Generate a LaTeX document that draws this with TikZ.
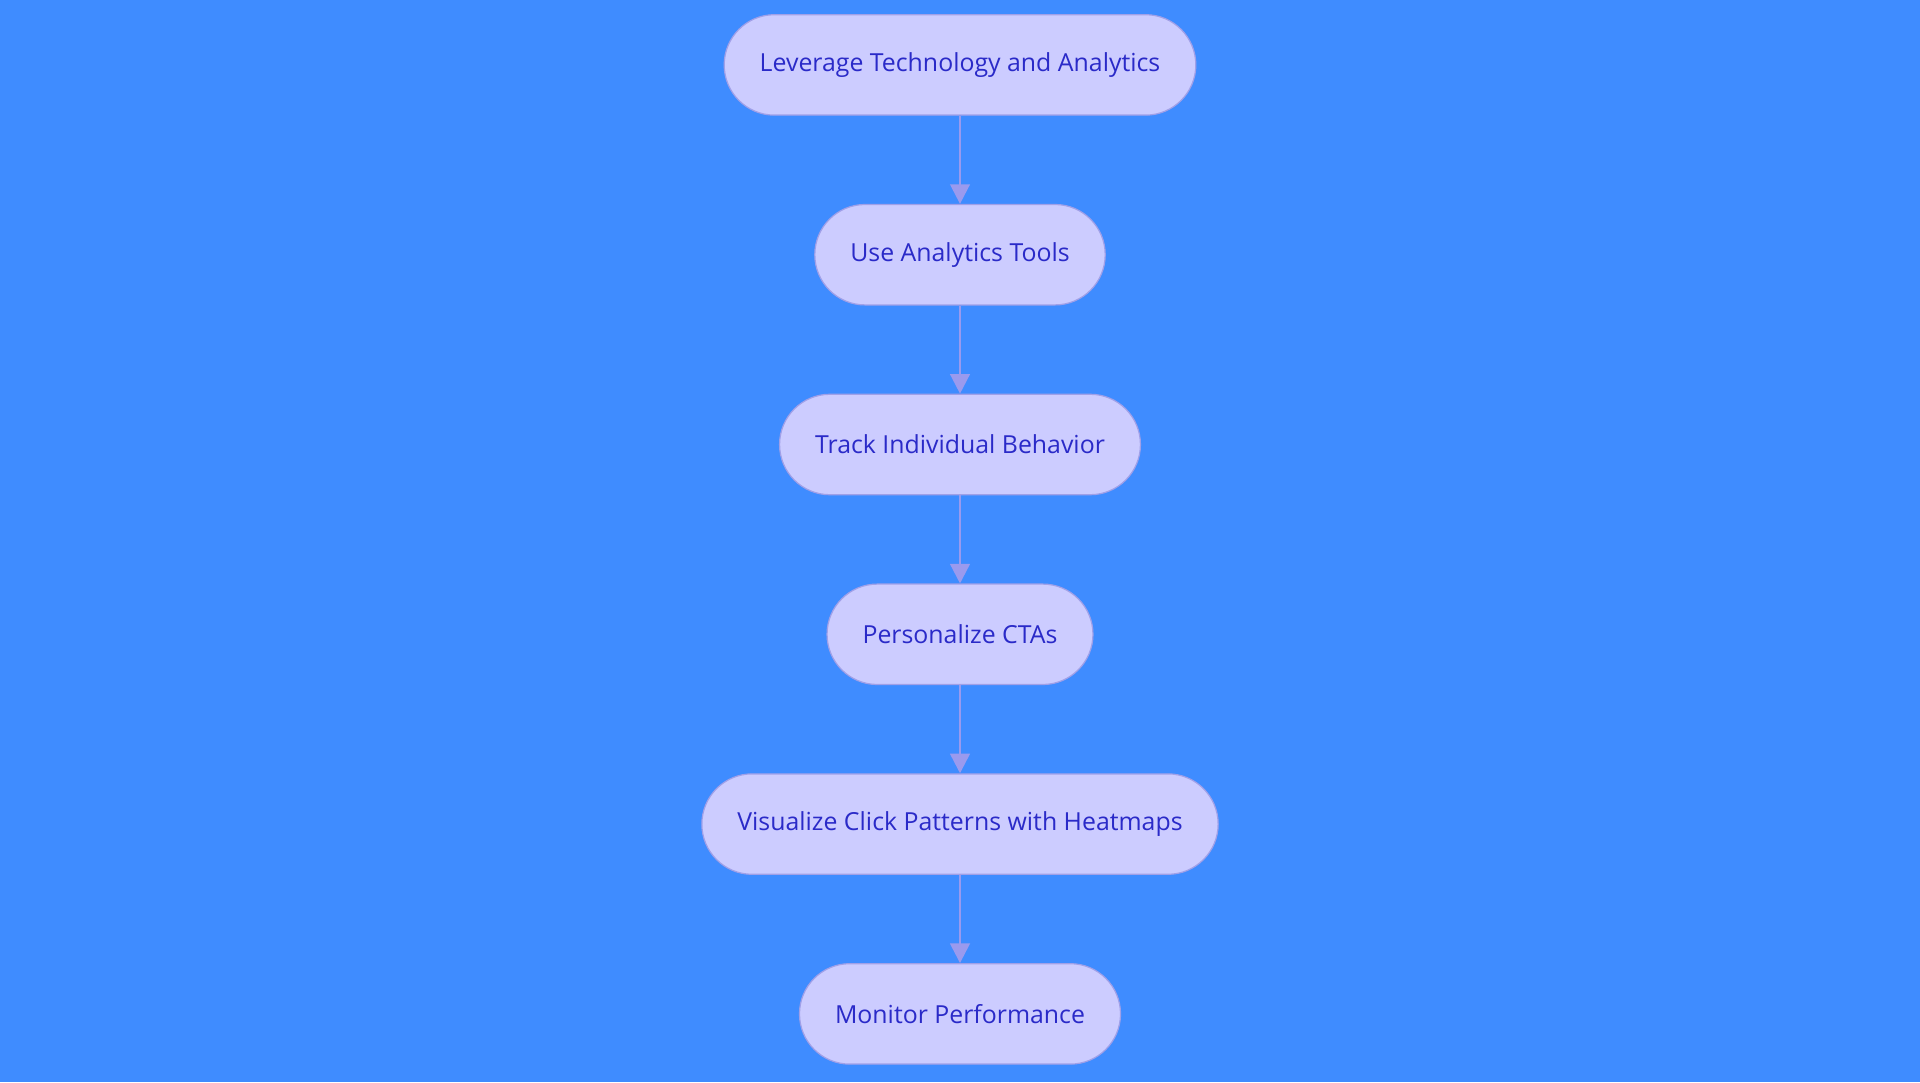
\documentclass[tikz,border=0pt]{standalone}
\usepackage{fontspec}
\setmainfont{Open Sans}
\usetikzlibrary{positioning}
\usetikzlibrary{arrows.meta}
\definecolor{bgblue}{HTML}{3F8CFF}
\definecolor{nodefill}{HTML}{CCCCFF}
\definecolor{nodeline}{HTML}{A0A0E8}
\definecolor{textblue}{HTML}{2A2AC8}
\definecolor{arrowline}{HTML}{9A9AEE}
\begin{document}
\begin{tikzpicture}[
			x=1pt, y=1pt,
			node distance=155pt,
			stage/.style={rectangle, rounded corners=41pt, minimum height=82pt, inner xsep=29pt, text centered, draw=nodeline, line width=1pt, fill=nodefill, text=textblue, font=\fontsize{20.3}{23}\selectfont},
			]
			\fill[bgblue] (0,0) rectangle (1568,-884);
			\useasboundingbox (0,0) rectangle (1568,-884);

			\node[stage]       (s_0) at (784,-53)        {Leverage Technology and Analytics};
			\node[stage]       (s_1) [below of=s_0]      {Use Analytics Tools};
			\node[stage]       (s_2) [below of=s_1]      {Track Individual Behavior};
			\node[stage]       (s_3) [below of=s_2]      {Personalize CTAs};
			\node[stage]       (s_4) [below of=s_3]      {Visualize Click Patterns with Heatmaps};
			\node[stage]       (s_5) [below of=s_4]      {Monitor Performance};

			\foreach \a/\b in {s_0/s_1, s_1/s_2, s_2/s_3, s_3/s_4, s_4/s_5}
				\draw [arrowline, line width=2pt, arrows={-Triangle[length=16pt,width=16pt]}] (\a) -- (\b);
\end{tikzpicture}
\end{document}
